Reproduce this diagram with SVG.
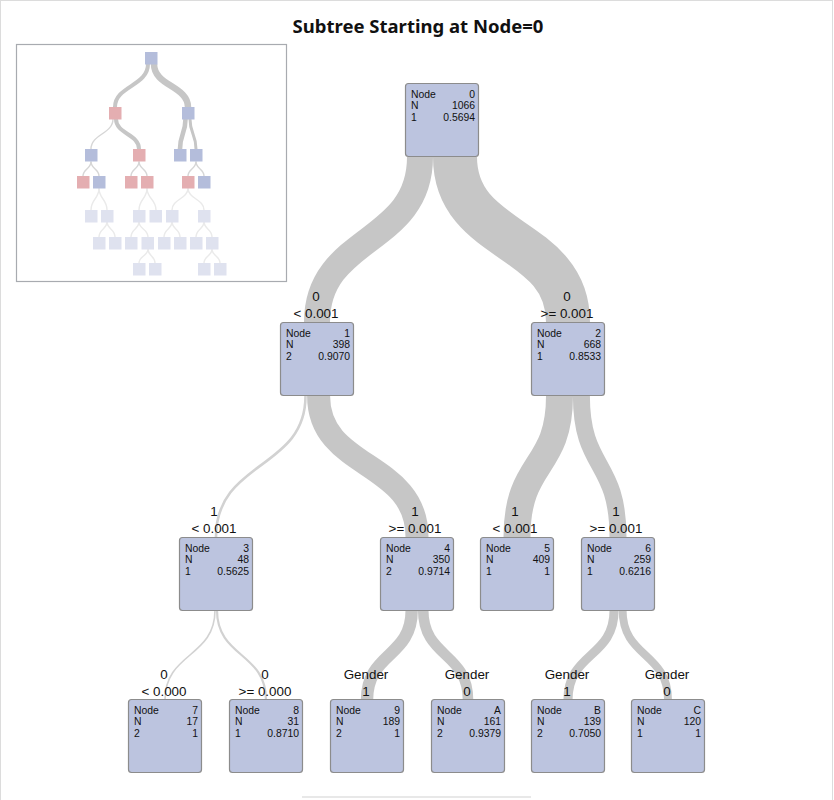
<svg xmlns="http://www.w3.org/2000/svg" width="834" height="800" viewBox="0 0 834 800">
<style>
.title{font-family:"Noto Sans","Liberation Sans",sans-serif;font-weight:bold;font-size:18.5px;fill:#111}
.box{fill:#bcc4df;stroke:#8c8c8c;stroke-width:1.2}
.nt{font-family:"Liberation Sans",Arial,sans-serif;font-size:10.4px;fill:#111}
.r{text-anchor:end}
.lbl{font-family:"Liberation Sans",Arial,sans-serif;font-size:13.4px;fill:#111;text-anchor:middle}
.band{fill:none;stroke:#c6c6c6;stroke-linecap:butt}
.thin{fill:none;stroke:#d2d2d2;stroke-linecap:butt}
.ib{fill:#b4bddb}
.ir{fill:#e4aeb1}
.if{fill:#dfe2ef}
.il{fill:none;stroke:#c6c6c6}
.ilt{fill:none;stroke:#d6d6d6;stroke-width:1.4}
.ilf{fill:none;stroke:#eaeaea;stroke-width:1.4}
</style>
<rect x="0.5" y="0.5" width="832" height="830" fill="#fff" stroke="#dcdcdc"/>
<line x1="302" y1="797" x2="531" y2="797" stroke="#d2d2d2" stroke-width="1.2"/>
<text class="title" x="418" y="33" text-anchor="middle">Subtree Starting at Node=0</text>

<g id="overview">
<rect x="16.5" y="44.5" width="270" height="237" fill="#fff" stroke="#a8abb0" stroke-width="1.2"/>
<g id="overview-links">
<path class="il" stroke-width="4" d="M148,64 C148,86 115,86 115,107"/>
<path class="il" stroke-width="6.5" d="M154,64 C154,86 188,86 188,107"/>
<path class="ilt" d="M113,119 C113,134 91,134 91,149"/>
<path class="il" stroke-width="4" d="M116,119 C116,134 139,134 139,149"/>
<path class="il" stroke-width="4.6" d="M185.5,119 C185.5,134 180,134 180,149"/>
<path class="il" stroke-width="3" d="M190,119 C190,134 196,134 196,149"/>
<path class="ilt" d="M91,161.5 C91,169 83,169 83,176"/>
<path class="ilt" d="M91,161.5 C91,169 99,169 99,176"/>
<path class="ilt" d="M139,161.5 C139,169 131,169 131,176"/>
<path class="ilt" d="M139,161.5 C139,169 147,169 147,176"/>
<path class="ilt" d="M196,161.5 C196,169 188,169 188,176"/>
<path class="ilt" d="M196,161.5 C196,169 204,169 204,176"/>
<path class="ilf" d="M99,188 C99,199 91,199 91,210"/>
<path class="ilf" d="M99,188 C99,199 107,199 107,210"/>
<path class="ilf" d="M147,188 C147,199 139,199 139,210"/>
<path class="ilf" d="M147,188 C147,199 156,199 156,210"/>
<path class="ilf" d="M188,188 C188,199 172,199 172,210"/>
<path class="ilf" d="M188,188 C188,199 204,199 204,210"/>
<path class="ilf" d="M107,222 C107,229 99,229 99,237"/>
<path class="ilf" d="M107,222 C107,229 115,229 115,237"/>
<path class="ilf" d="M139,222 C139,229 131,229 131,237"/>
<path class="ilf" d="M139,222 C139,229 148,229 148,237"/>
<path class="ilf" d="M172,222 C172,229 164,229 164,237"/>
<path class="ilf" d="M172,222 C172,229 180,229 180,237"/>
<path class="ilf" d="M204,222 C204,229 196,229 196,237"/>
<path class="ilf" d="M204,222 C204,229 212,229 212,237"/>
<path class="ilf" d="M148,249 C148,256 139,256 139,263"/>
<path class="ilf" d="M148,249 C148,256 155,256 155,263"/>
<path class="ilf" d="M212,249 C212,256 204,256 204,263"/>
<path class="ilf" d="M212,249 C212,256 220,256 220,263"/>
</g>
<rect class="ib" x="145" y="52" width="12.5" height="12.5"/>
<rect class="ir" x="109" y="107" width="12.5" height="12.5"/>
<rect class="ib" x="182" y="107" width="12.5" height="12.5"/>
<rect class="ib" x="85" y="149" width="12.5" height="12.5"/>
<rect class="ir" x="133" y="149" width="12.5" height="12.5"/>
<rect class="ib" x="174" y="149" width="12.5" height="12.5"/>
<rect class="ib" x="190" y="149" width="12.5" height="12.5"/>
<rect class="ir" x="77" y="176" width="12.5" height="12.5"/>
<rect class="ib" x="93" y="176" width="12.5" height="12.5"/>
<rect class="ir" x="125" y="176" width="12.5" height="12.5"/>
<rect class="ir" x="141" y="176" width="12.5" height="12.5"/>
<rect class="ir" x="182" y="176" width="12.5" height="12.5"/>
<rect class="ib" x="198" y="176" width="12.5" height="12.5"/>
<rect class="if" x="85" y="210" width="12.5" height="12.5"/>
<rect class="if" x="101" y="210" width="12.5" height="12.5"/>
<rect class="if" x="133" y="210" width="12.5" height="12.5"/>
<rect class="if" x="149.5" y="210" width="12.5" height="12.5"/>
<rect class="if" x="166" y="210" width="12.5" height="12.5"/>
<rect class="if" x="198" y="210" width="12.5" height="12.5"/>
<rect class="if" x="93" y="237" width="12.5" height="12.5"/>
<rect class="if" x="109" y="237" width="12.5" height="12.5"/>
<rect class="if" x="125" y="237" width="12.5" height="12.5"/>
<rect class="if" x="141.5" y="237" width="12.5" height="12.5"/>
<rect class="if" x="158" y="237" width="12.5" height="12.5"/>
<rect class="if" x="174" y="237" width="12.5" height="12.5"/>
<rect class="if" x="190" y="237" width="12.5" height="12.5"/>
<rect class="if" x="206" y="237" width="12.5" height="12.5"/>
<rect class="if" x="133" y="263" width="12.5" height="12.5"/>
<rect class="if" x="149" y="263" width="12.5" height="12.5"/>
<rect class="if" x="198" y="263" width="12.5" height="12.5"/>
<rect class="if" x="214" y="263" width="12.5" height="12.5"/>
</g>

<g id="connectors">
<path class="band" stroke-width="26" d="M420,157 C420,245 317,235 317,322"/>
<path class="band" stroke-width="44" d="M455,157 C455,245 568,235 568,322"/>
<path class="thin" stroke-width="2.6" d="M305.5,396 C305.5,470 216,460 216,537"/>
<path class="band" stroke-width="23" d="M318.6,396 C318.6,470 417,460 417,537"/>
<path class="band" stroke-width="27" d="M559.5,396 C559.5,470 517,460 517,537"/>
<path class="band" stroke-width="17" d="M581.4,396 C581.4,470 618,460 618,537"/>
<path class="thin" stroke-width="1.6" d="M215,610 C215,658 165,652 165,700"/>
<path class="thin" stroke-width="2.2" d="M217,610 C217,658 266,652 266,700"/>
<path class="band" stroke-width="12.4" d="M411.7,610 C411.7,658 367,652 367,700"/>
<path class="band" stroke-width="10.6" d="M423.2,610 C423.2,658 468,652 468,700"/>
<path class="band" stroke-width="9.1" d="M614.1,610 C614.1,658 568,652 568,700"/>
<path class="band" stroke-width="7.9" d="M622.6,610 C622.6,658 668,652 668,700"/>
</g>

<g id="labels">
<text class="lbl" x="316" y="301">0</text><text class="lbl" x="316" y="317.5">&lt; 0.001</text>
<text class="lbl" x="567" y="301">0</text><text class="lbl" x="567" y="317.5">&gt;= 0.001</text>
<text class="lbl" x="214" y="516">1</text><text class="lbl" x="214" y="532.5">&lt; 0.001</text>
<text class="lbl" x="415" y="516">1</text><text class="lbl" x="415" y="532.5">&gt;= 0.001</text>
<text class="lbl" x="515" y="516">1</text><text class="lbl" x="515" y="532.5">&lt; 0.001</text>
<text class="lbl" x="616" y="516">1</text><text class="lbl" x="616" y="532.5">&gt;= 0.001</text>
<text class="lbl" x="164" y="679">0</text><text class="lbl" x="164" y="695.5">&lt; 0.000</text>
<text class="lbl" x="265" y="679">0</text><text class="lbl" x="265" y="695.5">&gt;= 0.000</text>
<text class="lbl" x="366" y="679">Gender</text><text class="lbl" x="366" y="695.5">1</text>
<text class="lbl" x="467" y="679">Gender</text><text class="lbl" x="467" y="695.5">0</text>
<text class="lbl" x="567" y="679">Gender</text><text class="lbl" x="567" y="695.5">1</text>
<text class="lbl" x="667" y="679">Gender</text><text class="lbl" x="667" y="695.5">0</text>
</g>

<g id="node0"><rect class="box" x="405.5" y="83.5" width="73" height="73" rx="3"/>
<text class="nt" x="411" y="97.5">Node</text><text class="nt r" x="475" y="97.5">0</text>
<text class="nt" x="411" y="109.3">N</text><text class="nt r" x="475" y="109.3">1066</text>
<text class="nt" x="411" y="121.1">1</text><text class="nt r" x="475" y="121.1">0.5694</text></g>

<g id="node1"><rect class="box" x="280.5" y="322.5" width="73" height="73" rx="3"/>
<text class="nt" x="286" y="336.5">Node</text><text class="nt r" x="350" y="336.5">1</text>
<text class="nt" x="286" y="348.3">N</text><text class="nt r" x="350" y="348.3">398</text>
<text class="nt" x="286" y="360.1">2</text><text class="nt r" x="350" y="360.1">0.9070</text></g>

<g id="node2"><rect class="box" x="531.5" y="322.5" width="73" height="73" rx="3"/>
<text class="nt" x="537" y="336.5">Node</text><text class="nt r" x="601" y="336.5">2</text>
<text class="nt" x="537" y="348.3">N</text><text class="nt r" x="601" y="348.3">668</text>
<text class="nt" x="537" y="360.1">1</text><text class="nt r" x="601" y="360.1">0.8533</text></g>

<g id="node3"><rect class="box" x="179.5" y="537.5" width="73" height="73" rx="3"/>
<text class="nt" x="185" y="551.5">Node</text><text class="nt r" x="249" y="551.5">3</text>
<text class="nt" x="185" y="563.3">N</text><text class="nt r" x="249" y="563.3">48</text>
<text class="nt" x="185" y="575.1">1</text><text class="nt r" x="249" y="575.1">0.5625</text></g>

<g id="node4"><rect class="box" x="380.5" y="537.5" width="73" height="73" rx="3"/>
<text class="nt" x="386" y="551.5">Node</text><text class="nt r" x="450" y="551.5">4</text>
<text class="nt" x="386" y="563.3">N</text><text class="nt r" x="450" y="563.3">350</text>
<text class="nt" x="386" y="575.1">2</text><text class="nt r" x="450" y="575.1">0.9714</text></g>

<g id="node5"><rect class="box" x="480.5" y="537.5" width="73" height="73" rx="3"/>
<text class="nt" x="486" y="551.5">Node</text><text class="nt r" x="550" y="551.5">5</text>
<text class="nt" x="486" y="563.3">N</text><text class="nt r" x="550" y="563.3">409</text>
<text class="nt" x="486" y="575.1">1</text><text class="nt r" x="550" y="575.1">1</text></g>

<g id="node6"><rect class="box" x="581.5" y="537.5" width="73" height="73" rx="3"/>
<text class="nt" x="587" y="551.5">Node</text><text class="nt r" x="651" y="551.5">6</text>
<text class="nt" x="587" y="563.3">N</text><text class="nt r" x="651" y="563.3">259</text>
<text class="nt" x="587" y="575.1">1</text><text class="nt r" x="651" y="575.1">0.6216</text></g>

<g id="node7"><rect class="box" x="128.5" y="699.5" width="73" height="73" rx="3"/>
<text class="nt" x="134" y="713.5">Node</text><text class="nt r" x="198" y="713.5">7</text>
<text class="nt" x="134" y="725.3">N</text><text class="nt r" x="198" y="725.3">17</text>
<text class="nt" x="134" y="737.1">2</text><text class="nt r" x="198" y="737.1">1</text></g>

<g id="node8"><rect class="box" x="229.5" y="699.5" width="73" height="73" rx="3"/>
<text class="nt" x="235" y="713.5">Node</text><text class="nt r" x="299" y="713.5">8</text>
<text class="nt" x="235" y="725.3">N</text><text class="nt r" x="299" y="725.3">31</text>
<text class="nt" x="235" y="737.1">1</text><text class="nt r" x="299" y="737.1">0.8710</text></g>

<g id="node9"><rect class="box" x="330.5" y="699.5" width="73" height="73" rx="3"/>
<text class="nt" x="336" y="713.5">Node</text><text class="nt r" x="400" y="713.5">9</text>
<text class="nt" x="336" y="725.3">N</text><text class="nt r" x="400" y="725.3">189</text>
<text class="nt" x="336" y="737.1">2</text><text class="nt r" x="400" y="737.1">1</text></g>

<g id="nodeA"><rect class="box" x="431.5" y="699.5" width="73" height="73" rx="3"/>
<text class="nt" x="437" y="713.5">Node</text><text class="nt r" x="501" y="713.5">A</text>
<text class="nt" x="437" y="725.3">N</text><text class="nt r" x="501" y="725.3">161</text>
<text class="nt" x="437" y="737.1">2</text><text class="nt r" x="501" y="737.1">0.9379</text></g>

<g id="nodeB"><rect class="box" x="531.5" y="699.5" width="73" height="73" rx="3"/>
<text class="nt" x="537" y="713.5">Node</text><text class="nt r" x="601" y="713.5">B</text>
<text class="nt" x="537" y="725.3">N</text><text class="nt r" x="601" y="725.3">139</text>
<text class="nt" x="537" y="737.1">2</text><text class="nt r" x="601" y="737.1">0.7050</text></g>

<g id="nodeC"><rect class="box" x="631.5" y="699.5" width="73" height="73" rx="3"/>
<text class="nt" x="637" y="713.5">Node</text><text class="nt r" x="701" y="713.5">C</text>
<text class="nt" x="637" y="725.3">N</text><text class="nt r" x="701" y="725.3">120</text>
<text class="nt" x="637" y="737.1">1</text><text class="nt r" x="701" y="737.1">1</text></g>
</svg>
